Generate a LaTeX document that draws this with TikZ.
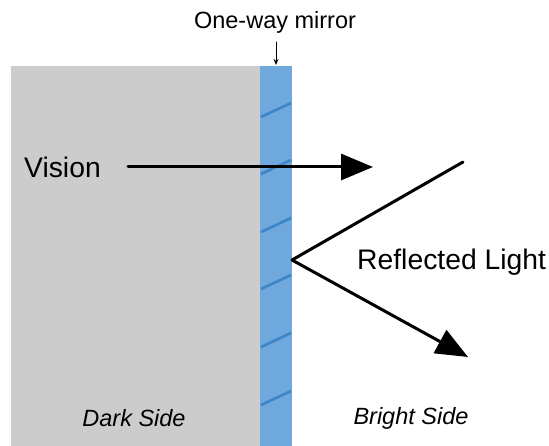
\documentclass[tikz,border=0pt]{standalone}
\usepackage{fontspec}
\setmainfont{Liberation Sans}
\usetikzlibrary{arrows.meta}
\definecolor{wallgray}{HTML}{CCCCCC}
\definecolor{mirrorblue}{HTML}{6FA8DC}
\definecolor{hatchblue}{HTML}{3D85C6}
\begin{document}
\begin{tikzpicture}[x=1pt,y=-1pt,line join=round,line cap=round,
  ray/.style={line width=3pt,-{Triangle[length=32pt,width=26pt]}},
  bigtxt/.style={inner sep=0pt,font=\fontsize{28.3}{34}\selectfont},
  smalltxt/.style={inner sep=0pt,font=\fontsize{23.5}{28}\selectfont}]
\useasboundingbox (0,0) rectangle (549,446);
\fill[wallgray] (11,66) rectangle (260,446);
\fill[mirrorblue] (260,66) rectangle (292,446);
\foreach \y in {117,174,232,289,347,405} \draw[hatchblue,line width=2.6pt,line cap=butt] (261,\y)--(291,\y-14);
\node[smalltxt] (mirrorlbl) at (275,22) {One-way mirror};
\node[smalltxt,font=\fontsize{23.5}{28}\itshape] (dark) at (134,418) {Dark Side};
\node[smalltxt,font=\fontsize{23.5}{28}\itshape] (bright) at (411,418) {Bright Side};
\node[bigtxt,anchor=west] (vision) at (24,167) {Vision};
\node[bigtxt,anchor=west] (refl) at (357,262) {Reflected Light};
\path (276,42)coordinate(mtop) (276,65)coordinate(mbot) (128,167)coordinate(eye) (373,167)coordinate(seen)
  (292,260)coordinate(hit) (463,162)coordinate(incoming) (468,357)coordinate(outgoing);
\draw[line width=1pt,-{Stealth[length=6pt,width=5pt]}] (mtop)--(mbot);
\draw[ray] (eye)--(seen);
\draw[line width=3pt] (incoming)--(hit);
\draw[ray] (hit)--(outgoing);
\end{tikzpicture}
\end{document}
